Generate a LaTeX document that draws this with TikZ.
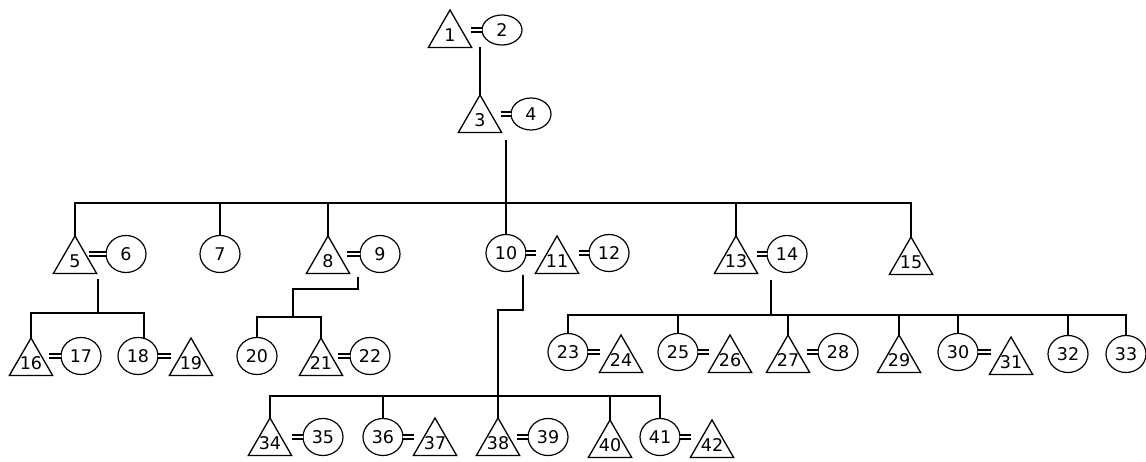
\documentclass[tikz,border=0pt]{standalone}
\usepackage{fontspec}
\setmainfont{DejaVu Sans}
\usetikzlibrary{shapes.geometric}
\begin{document}
\begin{tikzpicture}[x=1pt,y=-1pt,
  lbl/.style={font=\fontsize{17.5}{17.5}\selectfont},
  tri/.style={draw, lbl, regular polygon, regular polygon sides=3,
    minimum size=50pt, inner sep=-8pt, outer sep=0pt, line width=1.3pt},
  per/.style={draw, lbl, ellipse, minimum width=40pt, minimum height=37pt,
    inner sep=-4pt, outer sep=0pt, line width=1.2pt},
  link/.style={line width=1.8pt},
  wed/.style={double, line width=2pt, double distance=2.6pt}]
\fill[white] (0,0) rectangle (1146,462);
\useasboundingbox (0,0) rectangle (1146,462);

% generation I
\node[tri] (t1) at (450,35) {1};
\node[per, minimum height=30pt] (c2) at (502,30) {2};
\node[tri] (t3) at (480,120) {3};
\node[per, minimum height=32pt] (c4) at (531,114) {4};

% generation II
\node[tri] (t5)  at (75,261)  {5};
\node[per] (c6)  at (126,254) {6};
\node[per] (c7)  at (220,254) {7};
\node[tri] (t8)  at (328,261) {8};
\node[per] (c9)  at (380,254) {9};
\node[per] (c10) at (506,253) {10};
\node[tri] (t11) at (557,261) {11};
\node[per] (c12) at (609,253) {12};
\node[tri] (t13) at (736,261) {13};
\node[per] (c14) at (787,254) {14};
\node[tri] (t15) at (911,262) {15};

% generation III
\node[tri] (t16) at (31,363)   {16};
\node[per] (c17) at (81,356)   {17};
\node[per] (c18) at (138,356)  {18};
\node[tri] (t19) at (191,363)  {19};
\node[per] (c20) at (257,356)  {20};
\node[tri] (t21) at (321,363)  {21};
\node[per] (c22) at (370,356)  {22};
\node[per] (c23) at (568,352)  {23};
\node[tri] (t24) at (621,360)  {24};
\node[per] (c25) at (678,352)  {25};
\node[tri] (t26) at (730,360)  {26};
\node[tri] (t27) at (788,360)  {27};
\node[per] (c28) at (838,352)  {28};
\node[tri] (t29) at (899,360)  {29};
\node[per] (c30) at (958,352)  {30};
\node[tri] (t31) at (1011,362) {31};
\node[per] (c32) at (1068,354) {32};
\node[per] (c33) at (1126,354) {33};

% generation IV
\node[tri] (t34) at (270,443) {34};
\node[per] (c35) at (323,437) {35};
\node[per] (c36) at (383,437) {36};
\node[tri] (t37) at (435,443) {37};
\node[tri] (t38) at (498,443) {38};
\node[per] (c39) at (548,437) {39};
\node[tri] (t40) at (610,445) {40};
\node[per] (c41) at (660,437) {41};
\node[tri] (t42) at (712,445) {42};

% marriages
\draw[wed] (c2.west)  -- +(-11,0);
\draw[wed] (c4.west)  -- +(-10,0);
\draw[wed] (c6.west)  -- +(-17,0);
\draw[wed] (c9.west)  -- +(-13,0);
\draw[wed] (c10.east) -- +(10,0);
\draw[wed] (c12.west) -- +(-10,0);
\draw[wed] (c14.west) -- +(-10,0);
\draw[wed] (c17.west) -- +(-12,0);
\draw[wed] (c18.east) -- +(13,0);
\draw[wed] (c22.west) -- +(-12,0);
\draw[wed] (c23.east) -- +(12,0);
\draw[wed] (c25.east) -- +(11,0);
\draw[wed] (c28.west) -- +(-11,0);
\draw[wed] (c30.east) -- +(13,0);
\draw[wed] (c35.west) -- +(-11,0);
\draw[wed] (c36.east) -- +(11,0);
\draw[wed] (c39.west) -- +(-11,0);
\draw[wed] (c41.east) -- +(11,0);

% descent from 1 = 2
\draw[link] (t1.270 -| t3.90) -- (t3.90);

% descent from 3 = 4
\coordinate (j3) at (506,140);
\coordinate (b3) at (506,203);
\draw[link] (j3) -- (c10.north);
\draw[link] (t5.90) |- (b3) -| (t15.90);
\draw[link] (c7.north) -- (c7.north |- b3);
\draw[link] (t8.90) -- (t8.90 |- b3);
\draw[link] (t13.90) -- (t13.90 |- b3);

% descent from 5 = 6
\coordinate (d5) at (98,279);
\coordinate (b5) at (98,313);
\draw[link] (d5) -- (b5);
\draw[link] (t16.90) |- (b5) -| (c18.72);

% descent from 8 = 9
\coordinate (d8) at (358,277);
\coordinate (k8) at (293,289);
\coordinate (b8) at (293,317);
\draw[link] (d8) |- (k8) -- (b8);
\draw[link] (c20.north) |- (b8) -| (t21.90);

% descent from 10 = 11
\coordinate (d10) at (523,275);
\coordinate (k10) at (498,310);
\coordinate (b10) at (498,396);
\draw[link] (d10) |- (k10) -- (b10) -- (t38.90);
\draw[link] (t34.90) |- (b10) -| (c41.north);
\draw[link] (c36.north) -- (c36.north |- b10);
\draw[link] (t40.90) -- (t40.90 |- b10);

% descent from 13 = 14
\coordinate (d13) at (771,280);
\coordinate (b13) at (771,315);
\draw[link] (d13) -- (b13);
\draw[link] (c23.north) |- (b13) -| (c33.north);
\draw[link] (c25.north) -- (c25.north |- b13);
\draw[link] (t27.90) -- (t27.90 |- b13);
\draw[link] (t29.90) -- (t29.90 |- b13);
\draw[link] (c30.north) -- (c30.north |- b13);
\draw[link] (c32.north) -- (c32.north |- b13);
\end{tikzpicture}
\end{document}
